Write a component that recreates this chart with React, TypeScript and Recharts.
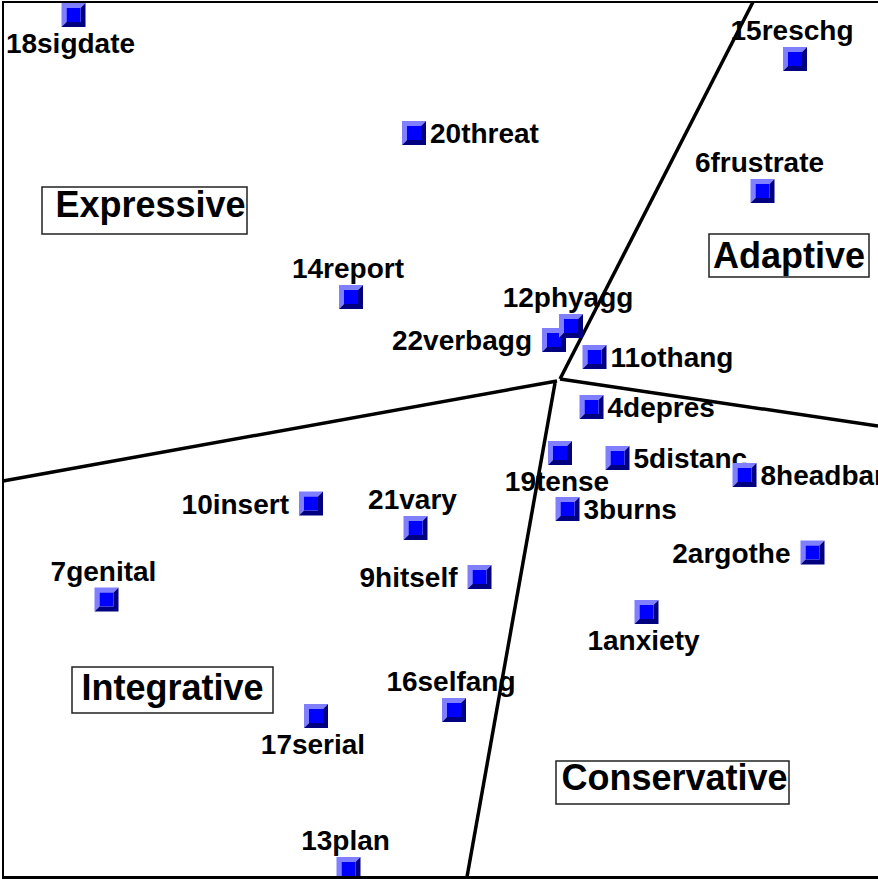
import {
  ReferenceArea,
  ReferenceLine,
  Scatter,
  ScatterChart,
  XAxis,
  YAxis,
} from "recharts";

// item coordinates on the two dimensions
const itemNames = [
  "18sigdate", "15reschg", "20threat", "6frustrate", "14report", "22verbagg",
  "12phyagg", "11othang", "4depres", "19tense", "5distanc", "8headbar",
  "10insert", "3burns", "21vary", "2argothe", "9hitself", "7genital",
  "1anxiety", "16selfang", "17serial", "13plan",
];
const dim1 = [
  -4.865, 2.35, -1.46, 2.025, -2.09, -0.06,
  0.11, 0.345, 0.315, 0.0, 0.575, 1.845,
  -2.49, 0.075, -1.445, 2.525, -0.805, -4.535,
  0.865, -1.06, -2.44, -2.115,
];
const dim2 = [
  3.64, 3.2, 2.46, 1.88, 0.82, 0.39,
  0.53, 0.22, -0.28, -0.74, -0.79, -0.96,
  -1.245, -1.3, -1.49, -1.735, -1.98, -2.205,
  -2.33, -3.31, -3.37, -4.9,
];
// where each item label sits relative to its marker
const labelSide = [
  "below", "above", "right", "above", "above", "left",
  "above", "right", "right", "below", "right", "right",
  "left", "right", "above", "left", "left", "above",
  "below", "above", "below", "above",
];

// region names and their boxes
const regionNames = ["Expressive", "Adaptive", "Integrative", "Conservative"];
const regionX = [[-5.18, -3.13], [1.49, 3.09], [-4.88, -2.87], [-0.04, 2.29]];
const regionY = [[1.45, 1.92], [1.02, 1.45], [-3.34, -2.88], [-4.25, -3.82]];
// small nudges of the name inside its box, px
const regionDx = [6, 0, 0, 2];
const regionDy = [-6, 0, -3, -5];

// region boundaries
const dividers = [
  [[0, 0], [1.93, 3.77]],
  [[0, 0], [3.18, -0.47]],
  [[-0.03, -0.02], [-5.57, -1.02]],
  [[-0.05, -0.04], [-0.93, -4.98]],
];

const data = itemNames.map((name, i) => ({
  name,
  x: dim1[i],
  y: dim2[i],
  side: labelSide[i],
}));

function BevelSquare(props: any) {
  const { cx, cy, payload } = props;
  if (cx == null || cy == null) return null;
  const h = 12;
  const b = 5;
  const L = cx - h, R = cx + h, T = cy - h, B = cy + h;
  const light = `${L},${T} ${R},${T} ${R - b},${T + b} ${L + b},${T + b} ${L + b},${B - b} ${L},${B}`;
  const dark = `${R},${T} ${R},${B} ${L},${B} ${L + b},${B - b} ${R - b},${B - b} ${R - b},${T + b}`;

  let tx = cx - 3;
  let ty = cy;
  let anchor: "start" | "middle" | "end" = "middle";
  if (payload.side === "above") ty = cy - 19;
  else if (payload.side === "below") ty = cy + 38;
  else if (payload.side === "right") {
    tx = cx + 16;
    ty = cy + 10;
    anchor = "start";
  } else {
    tx = cx - 22;
    ty = cy + 10;
    anchor = "end";
  }

  return (
    <g>
      <polygon points={light} fill="#8080ff" />
      <polygon points={dark} fill="#000080" />
      <rect x={L + b} y={T + b} width={2 * (h - b)} height={2 * (h - b)} fill="#0000ff" />
      <text x={tx} y={ty} textAnchor={anchor} fontSize={28} fontWeight="bold" fill="#000">
        {payload.name}
      </text>
    </g>
  );
}

function RegionName(props: any) {
  const { viewBox, value, dx, dy } = props;
  if (!viewBox) return null;
  const { x, y, width, height } = viewBox;
  return (
    <text
      x={x + width / 2 + dx}
      y={y + height / 2 + 12.5 + dy}
      textAnchor="middle"
      fontSize={36}
      fontWeight="bold"
      fill="#000"
    >
      {value}
    </text>
  );
}

export default function App() {
  return (
    <div
      style={{
        position: "absolute",
        left: 0,
        top: 0,
        width: 878,
        height: 879,
        overflow: "hidden",
        background: "#fff",
        fontFamily: "'Liberation Sans', Arial, sans-serif",
      }}
    >
      <ScatterChart width={878} height={879} margin={{ top: 0, right: 0, bottom: 0, left: 0 }}>
        <XAxis type="number" dataKey="x" domain={[-5.6, 3.18]} hide allowDataOverflow />
        <YAxis type="number" dataKey="y" domain={[-5.0, 3.79]} hide allowDataOverflow />
        {dividers.map((seg, i) => (
          <ReferenceLine
            key={i}
            segment={[
              { x: seg[0][0], y: seg[0][1] },
              { x: seg[1][0], y: seg[1][1] },
            ]}
            stroke="#000"
            strokeWidth={3.5}
            ifOverflow="visible"
          />
        ))}
        {regionNames.map((name, i) => (
          <ReferenceArea
            key={name}
            x1={regionX[i][0]}
            x2={regionX[i][1]}
            y1={regionY[i][0]}
            y2={regionY[i][1]}
            fill="#fff"
            fillOpacity={1}
            stroke="#222"
            strokeWidth={1.5}
            ifOverflow="visible"
            label={(p: any) => (
              <RegionName {...p} value={name} dx={regionDx[i]} dy={regionDy[i]} />
            )}
          />
        ))}
        <Scatter data={data} shape={BevelSquare} isAnimationActive={false} />
      </ScatterChart>
      <div
        style={{
          position: "absolute",
          left: 2,
          top: 1,
          width: 1000,
          height: 878,
          boxSizing: "border-box",
          borderTop: "2px solid #000",
          borderLeft: "2px solid #000",
          borderBottom: "3px solid #000",
          pointerEvents: "none",
        }}
      />
    </div>
  );
}
